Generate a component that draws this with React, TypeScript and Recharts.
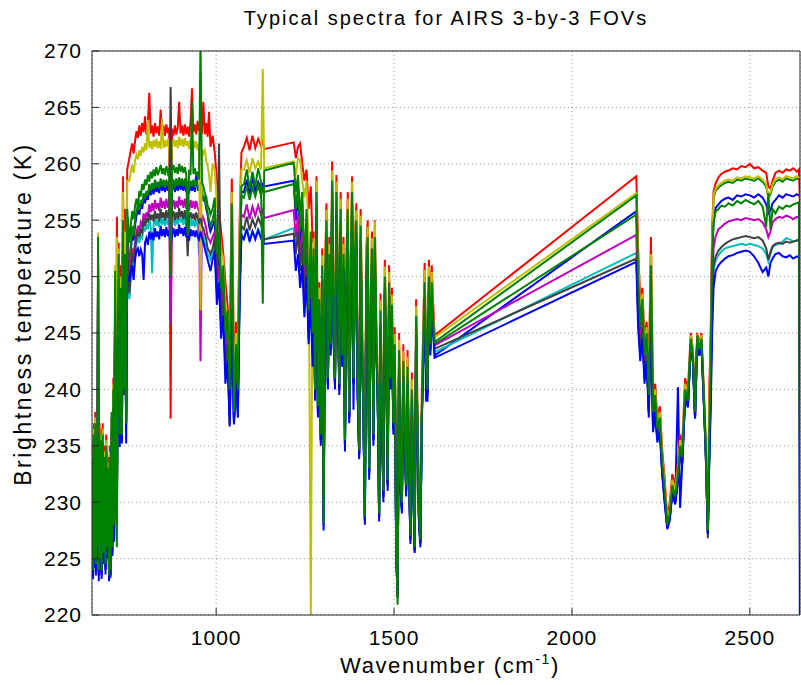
import { LineChart, Line, XAxis, YAxis, CartesianGrid, Label } from "recharts";

// AIRS channel wavenumbers (cm-1), sampled along the spectrum
const wavenumber = [
  // CO2 band
  652, 654, 656, 658, 660, 662, 664, 666, 668, 670, 672, 674, 676, 678,
  681, 684, 686, 689, 691, 694, 696, 699, 701, 703,
  706, 708, 711, 713, 716, 718, 721, 723, 726, 729,
  732, 735, 738, 741, 744, 747, 750,
  // window
  756, 760, 764, 768, 772, 776, 780, 784, 788, 792, 796, 800, 804,
  808, 812, 816, 820, 824, 828, 832, 836, 840, 844, 848, 852,
  856, 860, 864, 868, 872, 876, 880, 884, 888, 892, 896, 900,
  904, 908, 912, 916, 920, 924, 928, 932, 936, 940, 944, 948,
  952, 956, 960, 964, 968, 972, 976, 980, 984,
  // ozone
  990, 996, 1002, 1008, 1014, 1020, 1026, 1032, 1038, 1044, 1050, 1056, 1061, 1066, 1071,
  1078, 1086, 1094, 1102, 1110, 1118, 1126, 1131, 1135,
  1218, 1224, 1230, 1236, 1242, 1248, 1254, 1260, 1266, 1271,
  // water vapour
  1274, 1278, 1282, 1286, 1290, 1294, 1298, 1302, 1306, 1310,
  1314, 1318, 1322, 1326, 1330, 1334, 1338, 1342, 1346, 1350,
  1354, 1358, 1362, 1366, 1370, 1374, 1378, 1382, 1386, 1390,
  1394, 1398, 1402, 1406, 1410, 1414, 1418, 1422, 1426, 1430,
  1434, 1438, 1442, 1446, 1450, 1454, 1458, 1462, 1466, 1470,
  1474, 1478, 1482, 1486, 1490, 1494, 1498, 1502, 1506, 1510,
  1514, 1518, 1522, 1526, 1530, 1534, 1538, 1542, 1546, 1550,
  1554, 1558, 1562, 1566, 1570, 1574, 1578, 1582, 1586, 1590,
  1594, 1598, 1602, 1606, 1610, 1614,
  // shortwave
  2181, 2186, 2192, 2198, 2204, 2210, 2216, 2222, 2228, 2234, 2240, 2247, 2254, 2261, 2268, 2275, 2282, 2290, 2298, 2304,
  2310, 2318, 2326, 2334, 2340, 2346, 2352, 2358, 2364, 2370, 2376, 2382, 2386,
  2390, 2394, 2398, 2404, 2412, 2420, 2430, 2440, 2452, 2464, 2476, 2488, 2500, 2512, 2524, 2536, 2546, 2552, 2558, 2564,
  2572, 2582, 2592, 2602, 2612, 2622, 2632, 2638, 2641,
];

// FOV 1 (blue)
const fov1 = [
  233, 223.8, 235, 224.5, 236, 224, 234, 225.5, 251, 223.5, 235, 224.5, 234.5, 223.5,
  235, 225, 233, 224, 234, 225.5, 232, 223.2, 233, 223.5,
  236, 225.5, 238, 227, 248.5, 230, 230, 242, 250, 236,
  247, 235.5, 253, 240, 250, 237, 254,
  250, 252, 254, 253.2, 254.5, 255.4, 256, 255.5, 256.4, 256, 257, 256.5, 257.2,
  256.8, 257.8, 257.2, 257.9, 257.3, 258.2, 257.5, 258, 257.4, 258.4, 257.6, 258.2,
  257.5, 258.3, 257.6, 258.1, 252, 257.8, 258.2, 257.5, 258.3, 257.6, 258.5, 257.7,
  258.3, 257.6, 258.4, 257.5, 258, 257.4, 258.2, 257.6, 258.3, 257.5, 259.2, 257.8,
  258, 258.2, 257.2, 256.8, 257, 256, 255.5, 254.5, 254,
  254.5, 255, 250.5, 252, 247.5, 249.5, 243.5, 245.5, 238.5, 250, 237.3, 242.5, 239, 250.5, 257.5,
  257.5, 258.6, 257.3, 258.8, 257.6, 258.4, 257.8, 258.2, 258,
  258.5, 255, 257.5, 253, 255.5, 249.5, 254, 246, 252, 244,
  251.5, 239.5, 256.5, 238, 247, 235.5, 250, 228, 248, 254,
  240.5, 251, 243.5, 257.5, 245, 240.5, 256.5, 248, 240, 255,
  242.5, 251, 235, 249, 255, 237.5, 248, 256.5, 240.5, 251,
  254, 239.5, 234.2, 253.5, 244, 237.5, 228.4, 250, 252.5, 232.5,
  246, 251.5, 235.5, 252.5, 244, 239.5, 228.7, 246, 237.5, 230.5,
  249, 243, 231.5, 248.5, 240.5, 246.5, 236.5, 243, 225.5, 221.5,
  242.5, 231.5, 229.5, 241.5, 235.5, 231, 241, 232.5, 226.7, 239,
  231.5, 225.8, 245.5, 235.5, 228.5, 226.4, 237.5, 243, 248.5, 241.5,
  239.5, 249, 243.5, 248.5, 245.5, 243,
  255.8, 248, 244, 246.5, 241.5, 243.5, 238, 248, 236.5, 238, 235.5, 236.5, 232.5, 230, 227.8, 228.6, 231, 230, 240.2, 229.5,
  233.5, 239.2, 238.5, 244, 242.5, 237.5, 244.3, 243, 244, 239.5, 234.5, 227.3, 234,
  243, 252, 254.8, 256.1, 256.4, 256.7, 256.9, 257, 256.8, 257.2, 257.1, 257.3, 257.2, 257, 257.3, 257, 256.4, 255.6, 255.9, 256.5,
  256.8, 257.2, 257, 257.3, 257.2, 257.1, 257.3, 257.2, 257.2,
];

// FOV 2 (green)
const fov2 = [
  233.5, 224, 235.5, 225, 236.5, 224.3, 234.5, 225.8, 252, 224, 235.5, 224.8, 235, 223.8,
  235.5, 225.3, 233.5, 224.3, 234.5, 225.8, 232.5, 223.4, 233.5, 223.8,
  236.5, 225.8, 239, 227.5, 249.5, 230.5, 228, 243, 251, 237,
  248, 236, 254, 241, 251, 238, 255,
  250.5, 252.4, 254.5, 253.6, 255, 255.8, 256.4, 255.9, 256.8, 256.4, 257.4, 256.9, 257.6,
  257.2, 258.2, 257.6, 258.3, 257.7, 258.6, 257.9, 258.4, 257.8, 258.7, 258, 258.6,
  257.9, 258.6, 258, 258.5, 253, 258.2, 258.6, 257.9, 258.7, 258, 258.8, 258.1,
  258.7, 258, 258.7, 257.9, 258.3, 257.8, 258.5, 258, 258.6, 257.9, 258.6, 258.1,
  257.6, 258.2, 257.5, 257, 256.8, 256.3, 255.6, 255, 254.5,
  255, 256, 251, 253, 248, 250, 244, 246, 239, 252, 237.8, 243, 239.5, 251.5, 257.2,
  257, 258, 256.8, 257.9, 257.1, 258.1, 257.2, 257.8, 257.5,
  258.2, 256, 258, 254, 256.5, 250, 255, 246.5, 253, 244.5,
  252, 239.8, 257, 238.3, 247.5, 235.8, 250.5, 228.5, 248.5, 254.5,
  240.8, 251.5, 243.8, 258, 245.5, 240.8, 257, 248.5, 240.3, 255.5,
  242.8, 251.5, 235.3, 249.5, 255.5, 237.8, 248.5, 257, 240.8, 251.5,
  254.5, 239.8, 234.5, 254, 244.5, 237.8, 228.6, 250.5, 253, 232.8,
  246.5, 252, 235.8, 253, 244.5, 239.8, 228.9, 246.5, 237.8, 230.8,
  249.5, 243.5, 231.8, 249, 240.8, 247, 236.8, 243.5, 225.8, 221.8,
  243, 231.8, 229.8, 242, 235.8, 231.3, 241.5, 232.8, 226.9, 239.5,
  231.8, 225.9, 246, 235.8, 228.8, 226.6, 237.8, 243.5, 249, 241.8,
  239.8, 249.5, 243.8, 249, 245.8, 244,
  255.5, 249, 245, 247, 242, 244, 238.5, 249.5, 237, 238.8, 236, 237, 233, 230.5, 227.8, 228.8, 231.2, 230.2, 232.2, 234.6,
  233.8, 239.6, 238.8, 244.3, 242.8, 237.8, 244.6, 243.3, 244.3, 239.8, 234.8, 227.4, 235,
  243.8, 252.8, 257, 257.6, 257.9, 258.1, 258.3, 258.4, 258.3, 258.6, 258.5, 258.7, 258.6, 258.5, 258.7, 258.4, 258, 257, 257.3, 258,
  258.4, 258.6, 258.4, 258.7, 258.6, 258.5, 258.7, 258.6, 258.6,
];

// FOV 3 (red)
const fov3 = [
  235, 225, 237, 226, 238, 225.5, 236, 227, 252, 225, 237, 226, 236.5, 225,
  237, 226.5, 235, 225.5, 236, 227, 234, 224.5, 235, 225,
  237.5, 227, 241, 229, 249.5, 232, 255.3, 246, 253, 240,
  251, 242, 258.9, 249, 256, 250, 259.5,
  260.5, 261.2, 261.8, 260.9, 262, 262.9, 262.3, 263.4, 262.5, 263.6, 262.8, 264.2, 262.6,
  263.5, 266.3, 262.7, 263.4, 262.4, 263.6, 262.7, 263.3, 262.5, 264.8, 262.6, 263.4,
  262.5, 263.5, 262.7, 263.2, 237.4, 263.1, 262.5, 263.4, 262.6, 263.2, 265.5, 262.7,
  263.4, 262.5, 263.5, 262.6, 263.3, 262.4, 263.7, 266.7, 262.8, 263.5, 262.6, 263.8,
  262.9, 263.5, 262.7, 265.5, 262.6, 263.6, 262.4, 264.6, 261.5,
  262.5, 261, 258.5, 256, 254, 252, 249.5, 247.5, 243, 258.7, 242, 246, 244, 255, 261,
  261.5, 262.3, 261.2, 262.5, 261.4, 262.2, 261.6, 262, 261.3,
  261.9, 260.5, 261.5, 261.8, 260, 258.5, 259.5, 256, 258, 253,
  254, 241, 258.9, 239.5, 249.5, 237, 252.5, 236, 250.5, 256.5,
  242, 253.5, 245, 260.2, 247.5, 242, 259, 250.5, 241.5, 257.5,
  244, 253.5, 237, 251.5, 257.5, 239, 250.5, 258.9, 242, 253.5,
  256.5, 241, 236, 256, 246.5, 239, 231, 252.5, 255, 234.5,
  248.5, 254, 237, 255, 246.5, 241, 231, 248.5, 239, 232.5,
  251.5, 245.5, 233.5, 251, 242, 249, 238, 245.5, 228, 226,
  245, 237.5, 231.5, 244, 237.5, 233, 243.5, 234.5, 229, 241.5,
  233.5, 228, 248, 237.5, 231, 229, 239.5, 245.5, 251.2, 243,
  241, 251.5, 245, 251, 247.5, 244.8,
  258.9, 252.5, 248, 249, 244.5, 246, 241, 253.5, 239.5, 240.5, 237.5, 238.5, 234.5, 232, 228.5, 230, 232.5, 231.5, 233.5, 236,
  235, 241, 240, 245, 243.5, 238.5, 245, 244, 245, 240.5, 235.5, 228, 240,
  245, 254, 257.5, 258.3, 258.8, 259.1, 259.3, 259.4, 259.6, 259.5, 259.8, 259.7, 260, 259.6, 259.7, 259.4, 259.2, 258, 257.8, 258.5,
  259.2, 259.4, 259.2, 259.5, 259.4, 259.6, 259.3, 259.5, 256.3,
];

// FOV 4 (cyan)
const fov4 = [
  233.2, 224.2, 235.8, 225, 236.8, 224.4, 234.8, 225.7, 250.5, 224, 235.8, 225, 235.2, 224,
  235.8, 225.4, 233.8, 224.4, 234.8, 225.6, 232.8, 223.6, 233.8, 224,
  236.2, 225.8, 238.8, 227.2, 247.5, 230.4, 229.5, 242.5, 249.5, 236.5,
  247, 236, 252, 240.5, 249, 237.5, 252.5,
  248, 249.8, 251.5, 250.9, 251.8, 252.9, 253.5, 253, 253.6, 253.4, 254.5, 254, 254.6,
  254.2, 255, 254.5, 250.3, 254.6, 255.2, 254.5, 255, 254.4, 255.4, 254.6, 255.1,
  254.5, 255.3, 254.6, 255, 253, 254.8, 255.2, 254.5, 255.1, 254.6, 255.5, 254.8,
  255.2, 254.6, 255.3, 254.5, 254.9, 254.2, 255.1, 254.5, 255, 254.4, 255, 254.5,
  252, 254.5, 254, 253.6, 253, 252.6, 252, 251.8, 251.5,
  252, 252.8, 248.5, 250, 245.5, 247.5, 241.5, 243.5, 237.5, 246.5, 237.2, 241, 238, 248.5, 253.8,
  253.4, 254.3, 253.2, 254, 253.5, 254.2, 253.6, 253.8, 253.3,
  254.3, 252.5, 254.5, 250.5, 253.5, 247, 252.5, 244.5, 250, 243,
  251, 239.4, 256, 237.9, 246.5, 235.4, 249.5, 228.2, 247.5, 253.5,
  240.4, 250.5, 243.4, 257, 244.5, 240.4, 256, 247.5, 239.9, 254.5,
  242.4, 250.5, 235, 248.5, 254.5, 237.4, 247.5, 256, 240.4, 250.5,
  253.5, 239.4, 234.2, 253, 243.5, 237.4, 228.3, 249.5, 252, 232.4,
  245.5, 251, 235.4, 252, 243.5, 239.4, 228.6, 245.5, 237.4, 230.4,
  248.5, 242.5, 231.4, 248, 240.4, 246, 236.4, 242.5, 225.4, 221.5,
  242, 231.4, 229.4, 241, 235.4, 231, 240.6, 232.4, 226.6, 238.6,
  231.4, 225.6, 245, 235.4, 228.4, 226.3, 237.4, 242.6, 248, 241.4,
  239.4, 248.6, 243.4, 248, 245.4, 243.3,
  252.1, 246.8, 243.6, 245.6, 241.1, 243.1, 238.1, 248.2, 236.7, 238.4, 235.7, 236.7, 232.7, 230.3, 227.9, 228.7, 231, 230, 232, 234.5,
  233.6, 239.4, 238.6, 244.2, 242.6, 237.6, 244.4, 243.2, 244.2, 239.6, 234.6, 227.2, 234.2,
  239.5, 246, 250.5, 251.4, 251.9, 252.2, 252.5, 252.6, 252.7, 252.8, 252.9, 252.8, 252.9, 252.8, 252.7, 252.5, 252, 251.3, 252, 252.6,
  252.8, 252.9, 253.1, 253.4, 253.3, 253.1, 253.2, 253.2, 253.2,
];

// FOV 5 (magenta)
const fov5 = [
  233, 223.4, 235.5, 224.6, 236.5, 224.2, 234.5, 225.5, 251, 223.6, 235.5, 224.6, 235, 223.6,
  235.5, 225.2, 233.5, 224.2, 234.5, 225.6, 232.5, 223.2, 233.5, 223.6,
  236, 225.6, 238.5, 227, 248, 230, 229, 242, 250, 236,
  247.5, 235.5, 252.5, 240, 249.5, 237, 253,
  249, 250.8, 252.5, 251.8, 253, 253.9, 254.5, 254, 254.8, 254.5, 255.6, 255, 255.7,
  255.3, 256.4, 255.7, 256.5, 255.8, 256.8, 256, 256.5, 255.8, 257, 256.1, 256.7,
  256, 256.9, 256.1, 256.6, 245.8, 256.3, 256.8, 256, 256.7, 256.1, 257.1, 256.3,
  256.8, 256.1, 256.9, 256, 256.5, 255.8, 256.8, 256.1, 256.7, 256, 256.7, 256.1,
  255.8, 242.5, 255.5, 255.2, 254.8, 254.3, 253.5, 253.3, 253,
  253.5, 254, 249.5, 251, 246.5, 248.5, 242.5, 244.5, 238, 248, 237.5, 242, 238.5, 249.5, 255.5,
  255.3, 256.4, 255.1, 256.2, 255.4, 256.3, 255.5, 255.9, 255.2,
  255.9, 253.5, 255.5, 251.5, 254, 248, 253, 245, 251, 243.5,
  251.4, 239.6, 256.4, 238.1, 246.9, 235.6, 249.9, 228.4, 247.9, 253.9,
  240.6, 250.9, 243.6, 257.4, 244.9, 240.6, 256.4, 247.9, 240.1, 254.9,
  242.6, 250.9, 235.2, 248.9, 254.9, 237.6, 247.9, 256.4, 240.6, 250.9,
  253.9, 239.6, 234.4, 253.4, 243.9, 237.6, 228.5, 249.9, 252.4, 232.6,
  245.9, 251.4, 235.6, 252.4, 243.9, 239.6, 228.8, 245.9, 237.6, 230.6,
  248.9, 242.9, 231.6, 248.4, 240.6, 246.4, 236.6, 242.9, 225.6, 221.7,
  242.4, 231.6, 229.6, 241.4, 235.6, 231.2, 241, 232.6, 226.8, 239,
  231.6, 225.8, 245.4, 235.6, 228.6, 226.5, 237.6, 243, 248.4, 241.6,
  239.6, 249, 243.6, 248.4, 245.6, 243.9,
  253.7, 247.5, 244, 246, 241.5, 243.5, 238.2, 248.5, 236.8, 238.5, 235.8, 236.8, 232.8, 230.3, 227.9, 228.7, 231, 230, 232, 234.5,
  233.6, 239.4, 238.6, 244.2, 242.6, 237.6, 244.4, 243.2, 244.2, 239.6, 234.6, 227.3, 234.5,
  241, 249, 252.5, 253.6, 254.2, 254.4, 254.7, 254.9, 255, 255.1, 255, 255.2, 255.1, 255, 255.1, 254.8, 254.2, 253.5, 254, 254.8,
  255.1, 255.3, 255.2, 255.4, 255.3, 255.1, 255.3, 255.2, 255.2,
];

// FOV 6 (yellow)
const fov6 = [
  234.5, 224.5, 236.5, 225.5, 237.5, 225, 235.5, 226.5, 253.9, 224.5, 236.5, 225.5, 236, 224.5,
  236.5, 226, 234.5, 225, 235.5, 226.5, 233.5, 224, 234.5, 224.5,
  237, 226.5, 240.5, 228.5, 251, 231.5, 253.5, 245, 252.5, 238,
  250, 239, 257.5, 247, 254, 245, 258.5,
  258.5, 259.3, 259.9, 259.2, 260.3, 260.8, 260.4, 261.2, 260.7, 261.5, 261, 261.8, 261.2,
  263.9, 261.4, 262, 261.3, 262.1, 261.5, 262.2, 261.4, 262, 261.3, 264, 261.4,
  262.1, 261.5, 262.2, 261.4, 256, 261.6, 262.2, 261.5, 262.1, 261.4, 262.4, 261.6,
  262.2, 261.5, 262.3, 261.6, 262, 261.3, 262.2, 261.5, 262.1, 261.4, 262, 261.2,
  261.8, 247, 261.3, 260.9, 261.2, 260.3, 259.8, 259, 257.5,
  260, 259.5, 256.5, 255, 252.5, 251.5, 247.5, 246.5, 242, 257.5, 240.5, 245, 242.5, 254, 259.5,
  259.5, 260.3, 259.2, 260.5, 259.6, 260.2, 259.5, 268.4, 259.6,
  260.2, 259, 260.5, 260.3, 258.5, 257, 258.5, 253, 220, 251,
  253.4, 240.5, 258.5, 239, 249, 236.5, 251.9, 232, 249.9, 255.9,
  241.5, 252.9, 244.5, 259.4, 246.9, 241.5, 258.4, 249.9, 241, 256.9,
  243.5, 252.9, 236, 250.9, 256.9, 238.5, 249.9, 258.4, 241.5, 252.9,
  255.9, 240.5, 235.2, 255.4, 245.9, 238.5, 229.5, 251.9, 254.4, 233.5,
  247.9, 253.4, 236.5, 254.9, 245.9, 240.5, 229.8, 247.9, 238.5, 231.5,
  250.9, 244.9, 232.5, 250.4, 241.5, 248.4, 237.5, 244.9, 226.5, 223,
  244.4, 232.5, 231, 243.4, 236.5, 232, 242.9, 233.5, 228, 240.9,
  232.5, 227, 247.4, 236.5, 230, 227.5, 238.5, 244.9, 250.6, 242.5,
  240.5, 250.9, 244.5, 250.4, 246.5, 244.6,
  257.4, 251.5, 247, 248.5, 244, 245.5, 240.5, 252, 239, 240, 237, 238, 234, 231.5, 228.3, 229.5, 232, 231, 233, 235.5,
  234.5, 240.5, 239.5, 244.8, 243.3, 238.3, 244.9, 243.8, 244.8, 240.3, 235.3, 227.8, 238,
  244, 253, 257.2, 257.8, 258.1, 258.3, 258.5, 258.6, 258.5, 258.8, 258.7, 258.9, 258.8, 258.7, 258.9, 258.6, 258.2, 257.2, 257.5, 258.2,
  258.6, 258.8, 258.6, 258.9, 258.8, 258.7, 258.9, 258.8, 258.8,
];

// FOV 7 (dark gray)
const fov7 = [
  233, 223.6, 235.2, 224.8, 236.2, 224.2, 234.2, 225.4, 250.8, 223.8, 235.2, 224.8, 234.8, 223.8,
  235.2, 225.2, 233.2, 224.2, 234.2, 225.4, 232.2, 223.3, 233.2, 223.8,
  235.8, 225.4, 238.2, 226.8, 248, 230, 229, 242, 249.8, 236,
  247, 235.5, 252.2, 239.5, 249, 237, 253,
  248.5, 250.3, 252, 251.3, 252.5, 253.4, 254, 253.5, 254.2, 253.9, 255, 254.5, 255.2,
  254.8, 255.6, 255, 255.5, 254.9, 255.8, 255.1, 255.6, 254.9, 256, 255.2, 255.7,
  255, 255.9, 255.2, 255.6, 266.8, 255.3, 255.8, 255, 255.7, 255.1, 256.1, 255.3,
  255.8, 255.1, 255.9, 255, 251.8, 255.2, 255.7, 255.1, 255.6, 255, 255.7, 255.1,
  254.8, 255.2, 254.5, 254.3, 253.8, 253.3, 252.5, 252.3, 252,
  252.5, 253.5, 249, 261.8, 246, 248, 242, 244, 236.7, 247, 237, 241.5, 238.2, 249, 254.5,
  254.2, 255.3, 254.1, 255.1, 254.4, 255.2, 254.6, 254.9, 253.3,
  253.8, 252, 254, 250.5, 253, 247.5, 252, 244.5, 250.5, 243,
  251.2, 239.5, 256.2, 238, 246.7, 235.5, 249.7, 228.3, 247.7, 253.7,
  240.5, 250.7, 243.5, 257.2, 244.7, 240.5, 256.2, 247.7, 240, 254.7,
  242.5, 250.7, 235.1, 248.7, 254.7, 237.5, 247.7, 256.2, 240.5, 250.7,
  253.7, 239.5, 234.3, 253.2, 243.7, 237.5, 228.4, 249.7, 252.2, 232.5,
  245.7, 251.2, 235.5, 252.2, 243.7, 239.5, 228.7, 245.7, 237.5, 230.5,
  248.7, 242.7, 231.5, 248.2, 240.5, 246.2, 236.5, 242.7, 225.5, 221.6,
  242.2, 231.5, 229.5, 241.2, 235.5, 231.1, 240.8, 232.5, 226.7, 238.8,
  231.5, 225.7, 245.2, 235.5, 228.5, 226.4, 237.5, 242.8, 248.2, 241.5,
  239.5, 248.8, 243.5, 248.2, 245.5, 243.6,
  251.6, 246.5, 243.5, 245.5, 241, 243, 238, 248, 236.6, 238.3, 235.6, 236.6, 232.6, 230.2, 227.8, 228.6, 230.9, 229.9, 231.9, 234.4,
  233.5, 239.3, 238.5, 244.1, 242.5, 237.5, 244.3, 243.1, 244.1, 239.5, 234.5, 226.8, 234,
  240, 247, 251, 251.8, 252.3, 252.6, 252.9, 253.1, 253.3, 253.4, 253.5, 253.6, 253.5, 253.4, 253.5, 253.2, 252.5, 251.5, 252.2, 252.7,
  252.9, 253, 252.9, 253.1, 253, 253.1, 253.2, 253.3, 253.3,
];

// FOV 8 (blue)
const fov8 = [
  232, 223.2, 234, 224.2, 235, 223.5, 233, 224.8, 250, 223, 234, 224.2, 233.5, 223.2,
  234, 224.5, 232, 223.6, 233, 225, 231, 223, 232, 223.3,
  235, 225.2, 237, 226.5, 247, 229.5, 229.2, 241, 249, 234.9,
  246, 235.2, 251, 240, 248, 235.2, 250,
  249.7, 250.5, 251, 249.7, 251.5, 252.3, 252.5, 251.8, 252.4, 252, 249.7, 253, 253.4,
  252.8, 254, 253.3, 253.9, 253.2, 254.3, 253.5, 254, 253.3, 254.5, 253.6, 254.2,
  253.5, 254.4, 253.6, 254.1, 252.5, 253.8, 254.3, 253.5, 254.2, 253.6, 254.6, 253.8,
  254.3, 253.6, 254.4, 253.5, 253.9, 253.2, 254.2, 253.6, 254.1, 253.5, 254.1, 253.5,
  253.3, 254, 253.5, 253, 252.5, 252, 251.5, 251, 250.5,
  251.5, 252.3, 247.5, 249.5, 244.5, 246.5, 240.5, 242.5, 236.8, 246, 236.9, 240.5, 237.5, 248, 253.6,
  253.3, 254.2, 253.1, 254, 253.3, 254.1, 253.4, 253.7, 252.9,
  253.2, 250.5, 252, 249, 251, 246.4, 250, 244, 248, 242,
  251, 239, 255.5, 237.5, 246.5, 235, 249.5, 227.5, 247.5, 253,
  240, 250.5, 243, 256.5, 244.5, 240, 255.5, 247.5, 239.5, 254,
  242, 250.5, 234.5, 248.5, 254, 237, 247.5, 255.5, 238.2, 250.5,
  253, 239, 233.8, 252.5, 243.5, 237, 228, 249.5, 251.5, 232,
  245.5, 250.5, 235, 251.5, 243.5, 239, 228.3, 245.5, 237, 230,
  248.5, 242.5, 231, 248, 240, 245.5, 236, 242.5, 225.5, 222,
  242, 231, 229, 241, 235, 230.5, 240.5, 232, 226.3, 238.5,
  231, 225.5, 245, 235, 228, 226, 237, 242.5, 248, 239,
  239, 248.5, 243, 248, 245, 242.8,
  251.3, 245.5, 242.5, 244.5, 240.5, 242.5, 237.5, 247, 236.2, 238, 235.3, 236.3, 232.3, 229.8, 227.6, 228.4, 230.8, 229.8, 231.8, 234.3,
  233.4, 239.2, 238.4, 244, 242.4, 237.4, 244.2, 243, 244, 239.4, 234.4, 227.2, 233.8,
  238, 245, 249, 250.5, 251, 251.3, 251.6, 251.8, 251.9, 252.1, 252.2, 252.3, 252.2, 251.8, 251.2, 250.4, 250.8, 250, 251.2, 251.6,
  252, 252.1, 251.8, 251.7, 251.9, 251.6, 251.8, 251.7, 214,
];

// FOV 9 (green, drawn last)
const fov9 = [
  234, 224, 236, 225, 237, 224.5, 235, 226, 253.5, 224, 236, 225, 235.5, 224,
  236, 225.5, 234, 224.5, 235, 226, 233, 223.5, 234, 224,
  238, 226, 240, 228, 250.5, 231, 226, 244, 252, 236,
  249, 236, 255, 240, 252, 237, 256,
  253, 254.6, 255.8, 255.1, 256.3, 256.9, 256.2, 257.6, 257.1, 258.2, 257.7, 258.6, 258.1,
  259, 258.4, 259.3, 258.7, 259.5, 258.9, 259.7, 259, 259.4, 259.9, 259.1, 259.6,
  259, 259.8, 259.2, 259.6, 250, 259.4, 259.9, 259.2, 259.7, 259.1, 260, 259.3,
  259.8, 259.2, 259.7, 259, 253.6, 259.5, 259, 265.5, 259.1, 259.6, 258.9, 259.3,
  258.6, 271, 258.4, 258, 257.4, 257.1, 256.3, 256, 255.5,
  256, 257, 252, 254, 249, 251, 245, 247, 240, 256.5, 238, 244, 240, 252, 258,
  258.2, 259.5, 257.8, 259.3, 258, 259.6, 258.4, 247.6, 259.4,
  260.1, 257.5, 259, 255.5, 257.5, 251, 256, 247, 254, 245,
  252.5, 240, 257.5, 238.5, 248, 236, 251, 228.1, 249, 255,
  241, 252, 244, 258.5, 246, 241, 257.5, 249, 240.5, 256,
  243, 252, 235.5, 250, 256, 238, 249, 257.5, 241, 252,
  255, 240, 234.6, 254.5, 245, 238, 228.7, 251, 253.5, 233,
  247, 252.5, 236, 253.5, 245, 240, 229, 247, 238, 231,
  250, 244, 232, 249.5, 241, 247.5, 237, 244, 226, 220.9,
  243.5, 232, 230, 242.5, 236, 231.5, 242, 233, 227, 240,
  232, 226, 246.5, 236, 229, 226.7, 238, 244, 249.5, 242,
  240, 250, 244, 249.5, 246, 244.2,
  257.2, 250, 246, 248, 243, 245, 239.5, 251, 238, 239.5, 236.5, 237.5, 233.5, 231, 228, 229, 231.5, 230.5, 232.5, 235,
  234, 240, 239, 244.5, 243, 238, 244.8, 243.5, 244.5, 240, 235, 227.5, 236,
  242.5, 252, 254.8, 255.8, 256, 256.3, 256.2, 256.5, 256.3, 256.7, 256.5, 256.8, 256.6, 256.4, 256.7, 256.2, 254.4, 257.4, 254.2, 256,
  255.6, 256.2, 256, 256.3, 256.2, 256.4, 256.5, 256.6, 225.6,
];

const fovs = [fov1, fov2, fov3, fov4, fov5, fov6, fov7, fov8, fov9];
const fovColors = ["#0000ff", "#008000", "#ff0000", "#00bfbf", "#bf00bf", "#bfbf00", "#404040", "#0000ff", "#008000"];

const xTicks = [1000, 1500, 2000, 2500];
const yTicks = [220, 225, 230, 235, 240, 245, 250, 255, 260, 265, 270];

const data = wavenumber.map((w, i) => {
  const row: Record<string, number> = { w };
  fovs.forEach((f, k) => {
    row[`fov${k + 1}`] = f[i];
  });
  return row;
});

const FONT = "'Liberation Sans', Arial, Helvetica, sans-serif";
const AXIS = "#262626";

export default function App() {
  return (
    <div style={{ position: "absolute", left: 0, top: 0, width: 801, height: 685, background: "#fff" }}>
      <LineChart width={801} height={685} data={data} margin={{ top: 50, right: 0, bottom: 0, left: 0 }}>
        <CartesianGrid stroke="#9a9a9a" strokeDasharray="1 3" />
        <XAxis
          dataKey="w"
          type="number"
          domain={[651, 2641]}
          ticks={xTicks}
          allowDataOverflow
          height={70}
          stroke={AXIS}
          tickSize={-7}
          tickMargin={22}
          tick={{ fontSize: 21, fill: "#000", fontFamily: FONT, letterSpacing: 1 }}
        >
          <Label
            content={() => (
              <text x={450} y={673} textAnchor="middle" fontSize={22} fontFamily={FONT} letterSpacing={1.6} fill="#000">
                Wavenumber (cm
                <tspan dy={-9} fontSize={14}>-1</tspan>
                <tspan dy={9}>)</tspan>
              </text>
            )}
          />
        </XAxis>
        <XAxis
          xAxisId="top"
          orientation="top"
          type="number"
          domain={[651, 2641]}
          ticks={xTicks}
          allowDataOverflow
          height={1}
          stroke={AXIS}
          tickSize={-7}
          tick={false}
        >
          <Label
            content={() => (
              <text x={446} y={25} textAnchor="middle" fontSize={20} fontFamily={FONT} letterSpacing={2} fill="#000">
                Typical spectra for AIRS 3-by-3 FOVs
              </text>
            )}
          />
        </XAxis>
        <YAxis
          type="number"
          domain={[220, 270]}
          ticks={yTicks}
          allowDataOverflow
          width={92}
          stroke={AXIS}
          tickSize={-7}
          tickMargin={17}
          tick={{ fontSize: 21, fill: "#000", fontFamily: FONT, letterSpacing: 1 }}
        >
          <Label
            content={() => (
              <text
                transform="translate(31,314) rotate(-90)"
                textAnchor="middle"
                fontSize={23}
                fontFamily={FONT}
                letterSpacing={2.6}
                fill="#000"
              >
                Brightness temperature (K)
              </text>
            )}
          />
        </YAxis>
        <YAxis
          yAxisId="right"
          orientation="right"
          type="number"
          domain={[220, 270]}
          ticks={yTicks}
          allowDataOverflow
          width={1}
          stroke={AXIS}
          tickSize={-7}
          tick={false}
        />
        {fovs.map((_, k) => (
          <Line
            key={k}
            type="linear"
            dataKey={`fov${k + 1}`}
            stroke={fovColors[k]}
            strokeWidth={2}
            dot={false}
            activeDot={false}
            isAnimationActive={false}
          />
        ))}
      </LineChart>
    </div>
  );
}
